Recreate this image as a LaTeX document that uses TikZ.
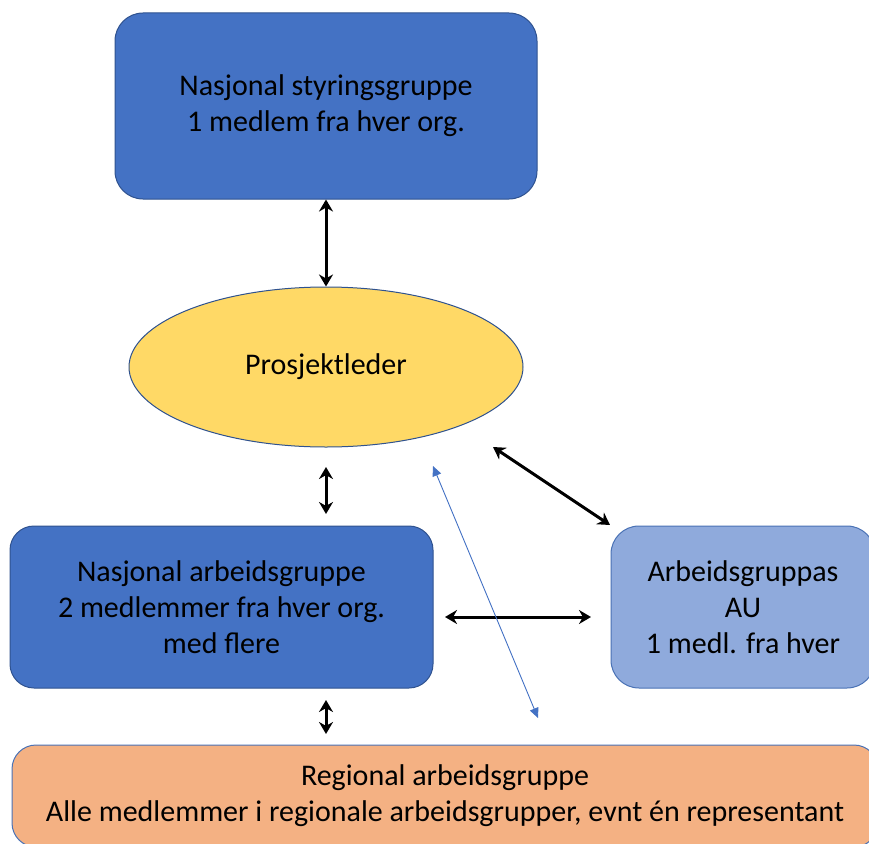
\documentclass[tikz,border=0pt]{standalone}
\usepackage{fontspec}
\setmainfont{Carlito}
\usetikzlibrary{arrows.meta,shapes.geometric}
\definecolor{dblue}{HTML}{4472C4}
\definecolor{dborder}{HTML}{2F528F}
\definecolor{lblue}{HTML}{8FAADC}
\definecolor{lborder}{HTML}{4A72B5}
\definecolor{yel}{HTML}{FFD966}
\definecolor{orng}{HTML}{F4B183}
\definecolor{arrblue}{HTML}{4472C4}
\tikzset{
  box/.style={draw=dborder, line width=1pt, fill=dblue, rounded corners=28pt, align=center,
    font=\fontsize{30}{36}\selectfont, inner sep=0pt},
  lbox/.style={draw=lborder, line width=1pt, fill=lblue, rounded corners=28pt, align=center,
    font=\fontsize{30}{36}\selectfont, inner sep=0pt},
  obox/.style={draw=lborder, line width=1pt, fill=orng, rounded corners=24pt, align=center,
    font=\fontsize{30}{36}\selectfont, inner sep=0pt},
  ell/.style={ellipse, draw=dborder, line width=1pt, fill=yel, inner sep=0pt,
    font=\fontsize{30}{36}\selectfont},
  biarrow/.style={line width=3pt, {Stealth[length=12pt,width=14pt]}-{Stealth[length=12pt,width=14pt]}},
  thinarrow/.style={draw=arrblue, line width=0.9pt, {Triangle[length=10pt,width=9pt]}-{Triangle[length=10pt,width=9pt]}}
}
\begin{document}
\begin{tikzpicture}[x=1pt,y=-1pt]
\useasboundingbox (0,0) rectangle (869,843);
\begin{scope}
\clip (0,0) rectangle (869,843);
\node[box, minimum width=422pt, minimum height=186pt] (top) at (326,106) {Nasjonal styringsgruppe\\1 medlem fra hver org.};
\node[ell, minimum width=394pt, minimum height=160pt] (pl) at (326,367) {Prosjektleder};
\node[box, minimum width=423pt, minimum height=162pt, rounded corners=24pt] (nag) at (221.5,607) {Nasjonal arbeidsgruppe\\2 medlemmer fra hver org.\\med flere};
\node[lbox, minimum width=264pt, minimum height=162pt] (au) at (743,607) {Arbeidsgruppas\\AU\\1 medl. fra hver};
\node[obox, minimum width=866pt, minimum height=102pt] (reg) at (445,796) {Regional arbeidsgruppe\\Alle medlemmer i regionale arbeidsgrupper, evnt én representant};
\end{scope}
\coordinate (a2s) at (326,467);
\coordinate (a2e) at (326,514);
\coordinate (a3s) at (326,700);
\coordinate (a3e) at (326,734);
\coordinate (hs) at (445,617);
\coordinate (he) at (591,617);
\coordinate (ds) at (493,447);
\coordinate (de) at (610,525);
\coordinate (bs) at (433,466);
\coordinate (be) at (538,718);
\draw[biarrow] (top.south) -- (pl.north);
\draw[biarrow] (a2s) -- (a2e);
\draw[biarrow] (a3s) -- (a3e);
\draw[biarrow] (hs) -- (he);
\draw[biarrow] (ds) -- (de);
\draw[thinarrow] (bs) -- (be);
\end{tikzpicture}
\end{document}
